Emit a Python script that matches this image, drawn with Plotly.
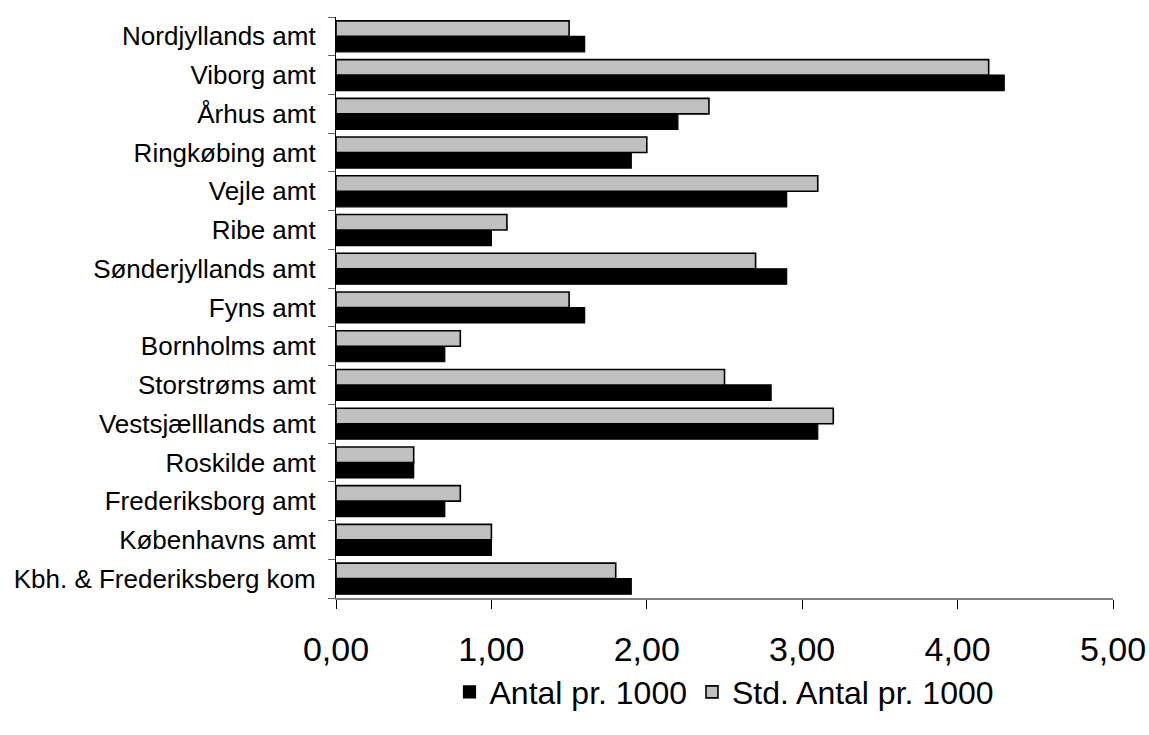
import plotly.graph_objects as go

# Regions, listed top to bottom as they appear on the chart
amter = [
    "Nordjyllands amt",
    "Viborg amt",
    "Århus amt",
    "Ringkøbing amt",
    "Vejle amt",
    "Ribe amt",
    "Sønderjyllands amt",
    "Fyns amt",
    "Bornholms amt",
    "Storstrøms amt",
    "Vestsjælllands amt",
    "Roskilde amt",
    "Frederiksborg amt",
    "Københavns amt",
    "Kbh. & Frederiksberg kom",
]
antal_pr_1000 = [1.6, 4.3, 2.2, 1.9, 2.9, 1.0, 2.9, 1.6, 0.7, 2.8, 3.1, 0.5, 0.7, 1.0, 1.9]
std_antal_pr_1000 = [1.5, 4.2, 2.4, 2.0, 3.1, 1.1, 2.7, 1.5, 0.8, 2.5, 3.2, 0.5, 0.8, 1.0, 1.8]
x_ticks = [0, 1, 2, 3, 4, 5]

# category axes run bottom-up, so feed the lists reversed
cats = amter[::-1]
FONT = "Liberation Sans, Arial, sans-serif"

fig = go.Figure()
fig.add_trace(go.Bar(
    name="Antal pr. 1000",
    y=cats, x=antal_pr_1000[::-1], orientation="h",
    marker=dict(color="#000000", line=dict(color="#000000", width=1.2)),
))
fig.add_trace(go.Bar(
    name="Std. Antal pr. 1000",
    y=cats, x=std_antal_pr_1000[::-1], orientation="h",
    marker=dict(color="#C0C0C0", line=dict(color="#000000", width=1.6)),
))

fig.update_layout(
    width=1149, height=735,
    margin=dict(l=336, r=36, t=17, b=137),
    paper_bgcolor="white", plot_bgcolor="white",
    barmode="group", bargap=0.2, bargroupgap=0,
    separators=", ",
    font=dict(family=FONT, color="black"),
    showlegend=True,
    legend=dict(
        orientation="h", x=0.5, xanchor="center", y=-0.162, yanchor="middle",
        font=dict(size=32, family=FONT), traceorder="normal",
        itemwidth=30, bgcolor="rgba(0,0,0,0)",
    ),
)
fig.update_xaxes(
    range=[0, 5], tickvals=x_ticks, tickformat=".2f",
    automargin=False,
    showgrid=False, zeroline=False,
    showline=True, linecolor="#808080", linewidth=1.5,
    ticks="outside", ticklen=9, tickcolor="black", tickwidth=1.2,
    ticklabelstandoff=11,
    tickfont=dict(size=34, family=FONT),
)
fig.update_yaxes(
    type="category", categoryorder="array", categoryarray=cats,
    automargin=False,
    showgrid=False, zeroline=False,
    showline=True, linecolor="black", linewidth=1.2,
    ticks="outside", tickson="boundaries", ticklen=7, tickcolor="#606060", tickwidth=1.2,
    ticklabelstandoff=14,
    tickfont=dict(size=26, family=FONT),
)

fig.write_html("out.html")
